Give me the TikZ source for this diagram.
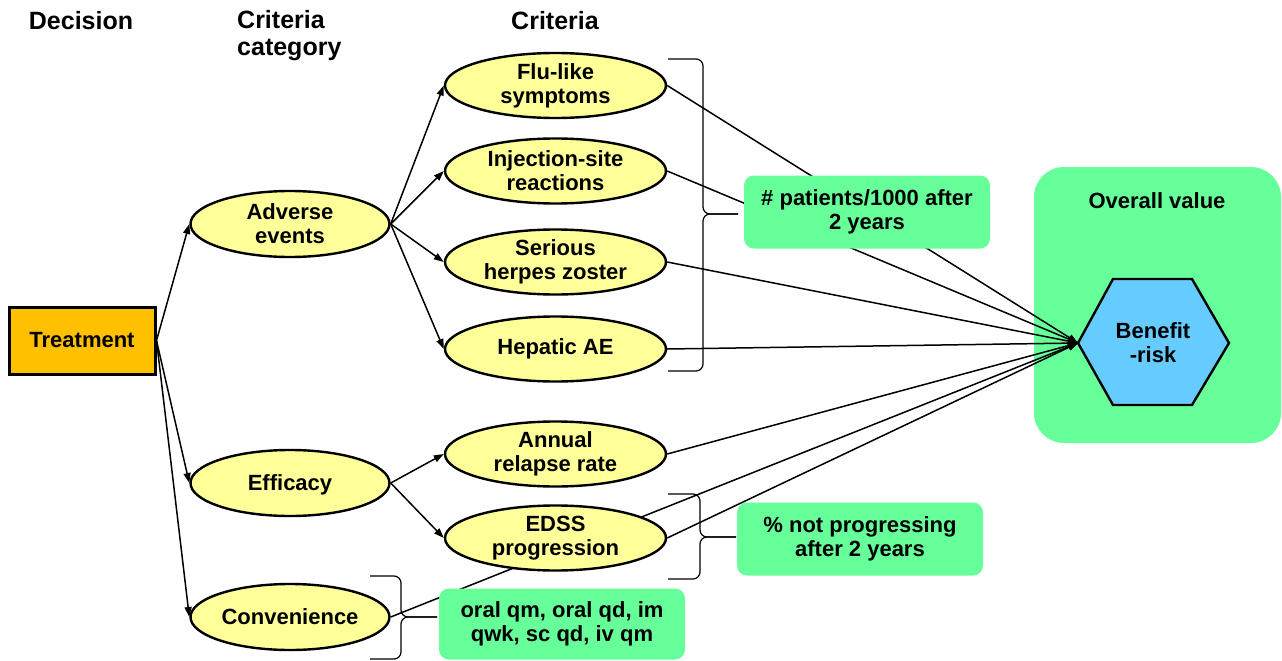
\documentclass[tikz,border=0pt]{standalone}
\usepackage{fontspec}
\setmainfont{Liberation Sans}
\usetikzlibrary{arrows.meta,shapes.geometric}
\definecolor{crityellow}{HTML}{FFFF99}
\definecolor{boxgreen}{HTML}{66FF99}
\definecolor{treatorange}{HTML}{FFC000}
\definecolor{hexblue}{HTML}{66CCFF}
\begin{document}
\begin{tikzpicture}[x=1pt,y=-1pt,
  font=\bfseries\fontsize{22}{24}\selectfont,
  header/.style={font=\bfseries\fontsize{25}{27}\selectfont, inner sep=0pt},
  catnode/.style={ellipse, draw, line width=2.4pt, fill=crityellow, minimum width=199pt, minimum height=66pt, inner sep=0pt, align=center, text depth=-1.5pt},
  critnode/.style={ellipse, draw, line width=2.4pt, fill=crityellow, minimum width=221pt, minimum height=65pt, inner sep=0pt, align=center},
  greenbox/.style={fill=boxgreen, rounded corners=10pt, minimum width=246pt, minimum height=73pt, inner sep=0pt, align=center},
  conn/.style={line width=1.4pt},
  arr/.style={line width=1.5pt, -{Triangle[length=10pt,width=7pt]}},
  bracepath/.style={line width=1.2pt, rounded corners=7pt}]
\useasboundingbox (0,0) rectangle (1282,661);

% headers
\node[header] (hdec) at (81,21) {Decision};
\node[header, anchor=north west, align=left] (hcat) at (237,10) {Criteria\\category};
\node[header] (hcrit) at (555,21) {Criteria};

% overall value background
\node[fill=boxgreen, rounded corners=30pt, minimum width=247pt, minimum height=276pt, inner sep=0pt] (ov) at (1157.5,305) {};
\node (ovt) at (1157,201) {Overall value};

% hexagon
\draw[line width=2.4pt, fill=hexblue] (1078,343) -- (1113,279) -- (1192,279) -- (1229,343) -- (1192,405) -- (1113,405) -- cycle;
\coordinate (hexw) at (1078,343);
\node[align=center] (br) at (1153,343) {Benefit\\-risk};

% node positions
\coordinate (pflu) at (555.5,85.5);
\coordinate (pinj) at (555.5,171);
\coordinate (pser) at (555.5,262);
\coordinate (phep) at (555.5,349);
\coordinate (pann) at (555.5,454);
\coordinate (pedss) at (555.5,538);
\coordinate (pconv) at (290,617);

% connectors to benefit-risk (drawn underneath nodes)
\node[catnode, draw=none, fill=none] (convghost) at (pconv) {};
\node[critnode, draw=none, fill=none] (edssghost) at (pedss) {};
\draw[arr] (convghost.east) -- (hexw);

% criteria category
\node[catnode] (adv) at (290,224) {Adverse\\events};
\node[catnode] (eff) at (290,483) {Efficacy};
\node[catnode] (conv) at (pconv) {Convenience};

% criteria
\node[critnode] (flu) at (pflu) {Flu-like\\symptoms};
\node[critnode] (inj) at (pinj) {Injection-site\\reactions};
\node[critnode] (ser) at (pser) {Serious\\herpes zoster};
\node[critnode] (hep) at (phep) {Hepatic AE};
\node[critnode] (ann) at (pann) {Annual\\relapse rate};

\draw[arr] (flu.east) -- (hexw);
\draw[arr] (inj.east) -- (hexw);
\draw[arr] (ser.east) -- (hexw);
\draw[arr] (hep.east) -- (hexw);
\draw[arr] (ann.east) -- (hexw);
\draw[arr] (edssghost.east) -- (hexw);

\node[critnode] (edss) at (pedss) {EDSS\\progression};

% treatment
\node[draw, line width=3pt, fill=treatorange, minimum width=146pt, minimum height=67pt, inner sep=0pt] (tr) at (82,340.5) {Treatment};

% arrows from treatment
\draw[arr] (tr.east) -- (adv.west);
\draw[arr] (tr.east) -- (eff.west);
\draw[arr] (tr.east) -- (conv.west);

% arrows from categories
\draw[arr] (adv.east) -- (flu.west);
\draw[arr] (adv.east) -- (inj.west);
\draw[arr] (adv.east) -- (ser.west);
\draw[arr] (adv.east) -- (hep.west);
\draw[arr] (eff.east) -- (ann.west);
\draw[arr] (eff.east) -- (edss.west);

% green measure boxes
\node[greenbox] (gpat) at (867,212) {\# patients/1000 after\\2 years};
\node[greenbox] (gprog) at (860,539) {\% not progressing\\after 2 years};
\node[greenbox, minimum height=71pt] (gconv) at (562,624) {oral qm, oral qd, im\\qwk, sc qd, iv qm};

% braces
\draw[bracepath] (668,59) -- (703,59) -- (703,214) -- (738,214);
\draw[bracepath] (668,371) -- (703,371) -- (703,214) -- (738,214);
\draw[bracepath] (668,494) -- (700,494) -- (700,537) -- (736,537);
\draw[bracepath] (668,579) -- (700,579) -- (700,537) -- (736,537);
\draw[bracepath] (370,576) -- (401,576) -- (401,617) -- (437,617);
\draw[bracepath] (370,659) -- (401,659) -- (401,617) -- (437,617);
\end{tikzpicture}
\end{document}
